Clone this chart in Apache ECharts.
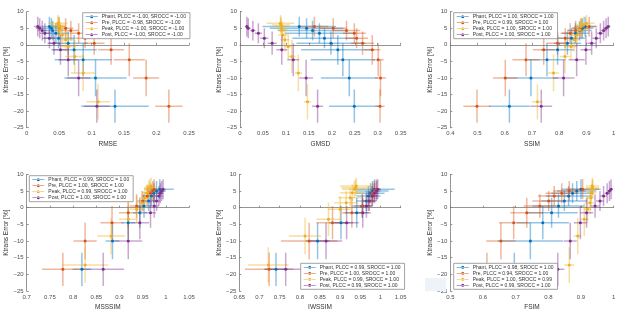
<!DOCTYPE html>
<html>
<head>
<meta charset="utf-8">
<script src="https://cdn.jsdelivr.net/npm/echarts@6/dist/echarts.min.js"></script>
<style>
html, body { margin: 0; padding: 0; background: #fff; }
#chart { width: 626px; height: 315px; }
</style>
</head>
<body>
<div id="chart"></div>
<script>
// Ktrans error per condition (top to bottom)
const yBase = [5.5, 5, 4.3, 3.5, 2, 0.5, -1.5, -4.5, -10, -18.5];
const yPeak = [6.5, 6, 5.5, 4.5, 3, 1.5, -0.5, -3.5, -8.5, -17.2];
const yErrBase = [3, 3, 3, 3, 3, 3.5, 4.5, 5, 5.5, 5];
const yErrPeak = [2.5, 2.5, 2.5, 2.5, 3, 3.5, 4, 5, 5.5, 5.3];

// RMSE
const rmsePhant = [0.035, 0.038, 0.04, 0.045, 0.049, 0.064, 0.073, 0.087, 0.106, 0.136];
const rmsePhantErr = [0.012, 0.014, 0.016, 0.02, 0.025, 0.03, 0.035, 0.044, 0.048, 0.052];
const rmsePre = [0.05, 0.06, 0.068, 0.08, 0.09, 0.104, 0.13, 0.158, 0.184, 0.219];
const rmsePreErr = [0.01, 0.012, 0.012, 0.014, 0.015, 0.016, 0.02, 0.024, 0.02, 0.021];
const rmsePeak = [0.048, 0.049, 0.05, 0.052, 0.055, 0.06, 0.064, 0.074, 0.087, 0.11];
const rmsePeakErr = [0.015, 0.012, 0.01, 0.01, 0.01, 0.012, 0.012, 0.015, 0.019, 0.018];
const rmsePost = [0.017, 0.02, 0.024, 0.028, 0.035, 0.042, 0.052, 0.064, 0.08, 0.108];
const rmsePostErr = [0.006, 0.006, 0.007, 0.008, 0.009, 0.01, 0.012, 0.015, 0.018, 0.02];

// GMSD
const gmsdPhant = [0.129, 0.145, 0.158, 0.173, 0.184, 0.198, 0.213, 0.224, 0.238, 0.249];
const gmsdPhantErr = [0.08, 0.08, 0.075, 0.075, 0.07, 0.075, 0.08, 0.07, 0.062, 0.055];
const gmsdPre = [0.162, 0.203, 0.232, 0.249, 0.254, 0.267, 0.288, 0.301, 0.306, 0.305];
const gmsdPreErr = [0.03, 0.03, 0.03, 0.025, 0.025, 0.025, 0.018, 0.012, 0.012, 0.01];
const gmsdPeak = [0.088, 0.089, 0.09, 0.092, 0.093, 0.098, 0.105, 0.113, 0.127, 0.147];
const gmsdPeakErr = [0.03, 0.02, 0.015, 0.012, 0.01, 0.01, 0.008, 0.008, 0.008, 0.008];
const gmsdPost = [0.015, 0.018, 0.028, 0.04, 0.053, 0.07, 0.091, 0.116, 0.144, 0.169];
const gmsdPostErr = [0.004, 0.005, 0.006, 0.008, 0.009, 0.01, 0.012, 0.013, 0.015, 0.012];

// SSIM
const ssimPhant = [0.895, 0.885, 0.875, 0.86, 0.845, 0.83, 0.794, 0.755, 0.696, 0.617];
const ssimPhantErr = [0.04, 0.04, 0.045, 0.05, 0.05, 0.05, 0.06, 0.07, 0.1, 0.075];
const ssimPre = [0.91, 0.88, 0.86, 0.84, 0.822, 0.794, 0.743, 0.678, 0.602, 0.498];
const ssimPreErr = [0.03, 0.03, 0.03, 0.035, 0.035, 0.04, 0.04, 0.05, 0.045, 0.05];
const ssimPeak = [0.9, 0.89, 0.88, 0.875, 0.865, 0.855, 0.843, 0.821, 0.779, 0.72];
const ssimPeakErr = [0.03, 0.025, 0.02, 0.02, 0.02, 0.02, 0.02, 0.02, 0.02, 0.02];
const ssimPost = [0.98, 0.972, 0.963, 0.951, 0.936, 0.919, 0.898, 0.864, 0.816, 0.734];
const ssimPostErr = [0.008, 0.01, 0.01, 0.012, 0.014, 0.016, 0.02, 0.03, 0.04, 0.04];

// MSSSIM
const msPhant = [0.987, 0.98, 0.974, 0.969, 0.963, 0.953, 0.944, 0.919, 0.885, 0.819];
const msPhantErr = [0.03, 0.02, 0.02, 0.018, 0.015, 0.015, 0.015, 0.015, 0.015, 0.02];
const msPre = [0.975, 0.972, 0.967, 0.96, 0.95, 0.937, 0.919, 0.884, 0.826, 0.778];
const msPreErr = [0.008, 0.01, 0.01, 0.012, 0.012, 0.015, 0.02, 0.025, 0.025, 0.045];
const msPeak = [0.968, 0.965, 0.963, 0.96, 0.955, 0.948, 0.937, 0.919, 0.882, 0.826];
const msPeakErr = [0.012, 0.012, 0.01, 0.01, 0.01, 0.012, 0.015, 0.02, 0.03, 0.05];
const msPost = [0.994, 0.991, 0.988, 0.985, 0.98, 0.975, 0.967, 0.944, 0.919, 0.865];
const msPostErr = [0.005, 0.006, 0.007, 0.008, 0.008, 0.01, 0.012, 0.02, 0.03, 0.045];

// IWSSIM
const iwPhant = [0.985, 0.98, 0.975, 0.97, 0.965, 0.955, 0.941, 0.902, 0.844, 0.741];
const iwPhantErr = [0.05, 0.04, 0.035, 0.03, 0.025, 0.025, 0.03, 0.03, 0.03, 0.03];
const iwPre = [0.99, 0.985, 0.98, 0.978, 0.97, 0.955, 0.929, 0.881, 0.823, 0.724];
const iwPreErr = [0.01, 0.01, 0.012, 0.012, 0.015, 0.02, 0.025, 0.04, 0.07, 0.06];
const iwPeak = [0.94, 0.938, 0.935, 0.93, 0.925, 0.915, 0.9, 0.871, 0.813, 0.722];
const iwPeakErr = [0.04, 0.035, 0.03, 0.03, 0.03, 0.03, 0.03, 0.03, 0.04, 0.05];
const iwPost = [0.993, 0.99, 0.985, 0.98, 0.972, 0.965, 0.956, 0.916, 0.865, 0.765];
const iwPostErr = [0.008, 0.01, 0.01, 0.012, 0.015, 0.015, 0.02, 0.03, 0.04, 0.05];

// FSIM
const fsPhant = [0.9, 0.887, 0.874, 0.862, 0.849, 0.831, 0.81, 0.783, 0.745, 0.696];
const fsPhantErr = [0.06, 0.06, 0.065, 0.07, 0.07, 0.08, 0.08, 0.08, 0.1, 0.1];
const fsPre = [0.905, 0.864, 0.841, 0.818, 0.801, 0.774, 0.734, 0.694, 0.655, 0.612];
const fsPreErr = [0.05, 0.05, 0.05, 0.05, 0.05, 0.05, 0.05, 0.045, 0.045, 0.05];
const fsPeak = [0.935, 0.935, 0.935, 0.932, 0.93, 0.928, 0.92, 0.91, 0.89, 0.864];
const fsPeakErr = [0.02, 0.02, 0.015, 0.015, 0.012, 0.012, 0.012, 0.012, 0.012, 0.015];
const fsPost = [0.992, 0.987, 0.98, 0.969, 0.958, 0.943, 0.917, 0.898, 0.867, 0.829];
const fsPostErr = [0.005, 0.006, 0.008, 0.01, 0.012, 0.015, 0.02, 0.02, 0.02, 0.02];

// legend labels
const rmseLegend = ['Phant, PLCC = -1.00, SROCC = -1.00', 'Pre, PLCC = -0.98, SROCC = -1.00',
  'Peak, PLCC = -1.00, SROCC = -1.00', 'Post, PLCC = -1.00, SROCC = -1.00'];
const ssimLegend = ['Phant, PLCC = 1.00, SROCC = 1.00', 'Pre, PLCC = 0.99, SROCC = 1.00',
  'Peak, PLCC = 1.00, SROCC = 1.00', 'Post, PLCC = 1.00, SROCC = 1.00'];
const msLegend = ['Phant, PLCC = 0.99, SROCC = 1.00', 'Pre, PLCC = 1.00, SROCC = 1.00',
  'Peak, PLCC = 0.99, SROCC = 1.00', 'Post, PLCC = 1.00, SROCC = 1.00'];
const iwLegend = ['Phant, PLCC = 0.99, SROCC = 1.00', 'Pre, PLCC = 1.00, SROCC = 1.00',
  'Peak, PLCC = 0.99, SROCC = 1.00', 'Post, PLCC = 0.99, SROCC = 1.00'];
const fsLegend = ['Phant, PLCC = 0.98, SROCC = 1.00', 'Pre, PLCC = 0.94, SROCC = 1.00',
  'Peak, PLCC = 1.00, SROCC = 0.99', 'Post, PLCC = 0.99, SROCC = 1.00'];

const groupColors = ['#0072BD', '#D95319', '#EDB120', '#7E2F8E'];
const groupY = [yBase, yBase, yPeak, yBase];
const groupYErr = [yErrBase, yErrBase, yErrPeak, yErrBase];
const font = 'Liberation Sans, Helvetica, Arial, sans-serif';

const panels = [
  { name: 'RMSE', min: 0, max: 0.25, step: 0.05, legend: rmseLegend, legendPos: [82.7, 12.7],
    grid: { left: 26.7, top: 11.7, width: 162.3, height: 116 },
    xs: [[rmsePhant, rmsePhantErr], [rmsePre, rmsePreErr], [rmsePeak, rmsePeakErr], [rmsePost, rmsePostErr]] },
  { name: 'GMSD', min: 0, max: 0.35, step: 0.05, legend: null,
    grid: { left: 240, top: 11.7, width: 160.7, height: 116 },
    xs: [[gmsdPhant, gmsdPhantErr], [gmsdPre, gmsdPreErr], [gmsdPeak, gmsdPeakErr], [gmsdPost, gmsdPostErr]] },
  { name: 'SSIM', min: 0.4, max: 1, step: 0.1, legend: ssimLegend, legendPos: [453.7, 12.7],
    grid: { left: 450.3, top: 11.7, width: 163.4, height: 116 },
    xs: [[ssimPhant, ssimPhantErr], [ssimPre, ssimPreErr], [ssimPeak, ssimPeakErr], [ssimPost, ssimPostErr]] },
  { name: 'MSSSIM', min: 0.7, max: 1.05, step: 0.05, legend: msLegend, legendPos: [29.3, 175.7],
    grid: { left: 26.7, top: 174.3, width: 162.3, height: 116.7 },
    xs: [[msPhant, msPhantErr], [msPre, msPreErr], [msPeak, msPeakErr], [msPost, msPostErr]] },
  { name: 'IWSSIM', min: 0.65, max: 1.05, step: 0.05, legend: iwLegend, legendPos: [300.7, 263.3],
    grid: { left: 239.3, top: 174.3, width: 161.4, height: 116.7 },
    xs: [[iwPhant, iwPhantErr], [iwPre, iwPreErr], [iwPeak, iwPeakErr], [iwPost, iwPostErr]] },
  { name: 'FSIM', min: 0.5, max: 1, step: 0.1, legend: fsLegend, legendPos: [453.7, 263.3],
    grid: { left: 450.3, top: 174.3, width: 163.4, height: 116.7 },
    xs: [[fsPhant, fsPhantErr], [fsPre, fsPreErr], [fsPeak, fsPeakErr], [fsPost, fsPostErr]] }
];

const axisCommon = {
  axisLine: { lineStyle: { color: '#7a7a7a', width: 0.8 } },
  axisTick: { inside: true, length: 2, lineStyle: { color: '#7a7a7a', width: 0.8 } },
  splitLine: { show: false },
  axisLabel: { color: '#4d4d4d', fontSize: 6, fontFamily: font, margin: 3 },
  nameTextStyle: { color: '#333', fontSize: 6.5, fontFamily: font }
};

const legendIcon = 'path://M0,4.4h24v1.2h-24z M9,5a3,3 0 1,0 6,0a3,3 0 1,0 -6,0z';

const grid = [], xAxis = [], yAxis = [], series = [], legend = [];

panels.forEach((p, i) => {
  grid.push(p.grid);
  xAxis.push(Object.assign({}, axisCommon, {
    gridIndex: i, type: 'value', min: p.min, max: p.max, interval: p.step,
    name: p.name, nameLocation: 'middle', nameGap: 13,
    axisLabel: Object.assign({}, axisCommon.axisLabel, {
      formatter: v => String(parseFloat(v.toFixed(2)))
    })
  }));
  yAxis.push(Object.assign({}, axisCommon, {
    gridIndex: i, type: 'value', min: -25, max: 10, interval: 5,
    name: 'Ktrans Error [%]', nameLocation: 'middle', nameGap: 14,
    axisLabel: Object.assign({}, axisCommon.axisLabel, {
      formatter: v => String(v).replace('-', '\u2212')
    })
  }));

  p.xs.forEach((pair, g) => {
    const color = groupColors[g];
    const pts = pair[0].map((x, k) => [x, groupY[g][k], pair[1][k], groupYErr[g][k]]);
    series.push({
      type: 'custom', xAxisIndex: i, yAxisIndex: i, clip: true, silent: true,
      encode: { x: 0, y: 1 },
      renderItem: (params, api) => {
        const x = api.value(0), y = api.value(1), ex = api.value(2), ey = api.value(3);
        const a = api.coord([x - ex, y]), b = api.coord([x + ex, y]);
        const c = api.coord([x, y - ey]), d = api.coord([x, y + ey]);
        const st = { stroke: color, lineWidth: 1.5, opacity: 0.42 };
        return {
          type: 'group', children: [
            { type: 'line', shape: { x1: a[0], y1: a[1], x2: b[0], y2: b[1] }, style: st },
            { type: 'line', shape: { x1: c[0], y1: c[1], x2: d[0], y2: d[1] }, style: st }
          ]
        };
      },
      data: pts, z: 2
    });
    series.push({
      type: 'scatter', xAxisIndex: i, yAxisIndex: i,
      name: p.legend ? p.legend[g] : p.name + g,
      symbol: 'circle', symbolSize: 3,
      itemStyle: { color: color, opacity: 1 },
      data: pts.map(v => [v[0], v[1]]), z: 3
    });
  });

  if (p.legend) {
    legend.push({
      data: p.legend.map((n, g) => ({ name: n, itemStyle: { color: groupColors[g] } })),
      orient: 'vertical', left: p.legendPos[0], top: p.legendPos[1],
      icon: legendIcon, itemWidth: 12, itemHeight: 5, itemGap: 1, selectedMode: false,
      padding: [1.5, 4, 1.5, 3], backgroundColor: '#fff',
      borderColor: '#8a8a8a', borderWidth: 0.8,
      textStyle: { fontSize: 5, fontFamily: font, color: '#333', padding: [0, 0, 0, -1] },
      z: 10
    });
  }
});

const chart = echarts.init(document.getElementById('chart'), null, { renderer: 'canvas' });
chart.setOption({
  animation: false,
  backgroundColor: '#fff',
  color: groupColors,
  grid: grid,
  xAxis: xAxis,
  yAxis: yAxis,
  legend: legend,
  graphic: [{
    type: 'rect', shape: { x: 425, y: 278, width: 21, height: 13 },
    style: { fill: '#eef2f9' }, z: 1
  }],
  series: series
});
</script>
</body>
</html>
